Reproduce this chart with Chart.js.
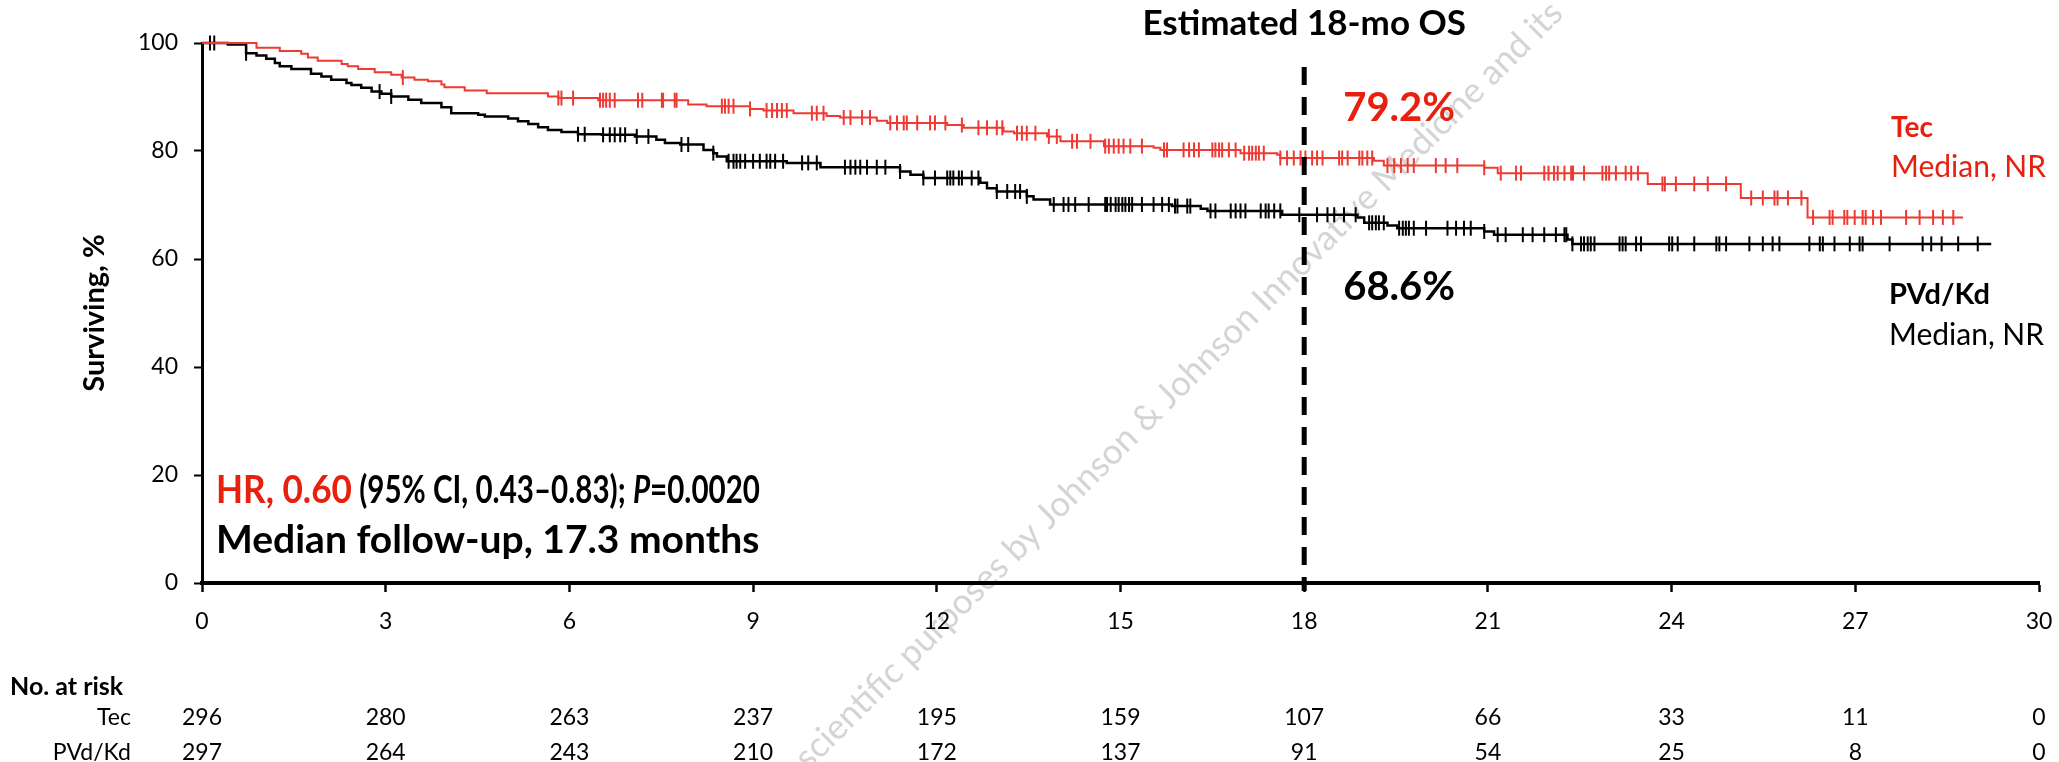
<!DOCTYPE html>
<html>
<head>
<meta charset="utf-8">
<script src="https://cdn.jsdelivr.net/npm/chart.js@4.4.1/dist/chart.umd.min.js"></script>
<style>
  html, body { margin: 0; padding: 0; background: #fff; }
  #wrap { width: 2059px; height: 762px; position: relative; }
</style>
</head>
<body>
<div id="wrap"><canvas id="km"></canvas></div>
<script>
// Kaplan-Meier steps: time (months) where survival drops, and survival (%) after that time
const tecTime = [0, 0.89, 1.27, 1.62, 1.73, 1.89, 2.28, 2.38, 2.55, 2.82, 3.09, 3.26, 3.47, 3.69, 3.91, 3.96,
  4.29, 4.65, 5.65, 5.82, 6.47, 7.94, 8.24, 8.95, 9.17, 9.66, 10.2, 10.42, 11.02, 11.19, 12.17, 12.44,
  13.09, 13.26, 13.8, 14.02, 14.73, 15.54, 15.65, 16.96, 17.56, 17.61, 19.14, 19.3, 20.94, 21.16,
  23.61, 25.13, 26.22, 28.76];
const tecSurv = [100, 99.1, 98.5, 98.0, 97.3, 96.7, 96.1, 95.7, 95.2, 94.6, 94.1, 93.6, 93.2, 92.9, 92.3, 91.8,
  91.2, 90.7, 90.1, 89.8, 89.4, 88.6, 88.3, 87.8, 87.5, 87.0, 86.5, 86.2, 85.6, 85.2, 84.8, 84.3,
  83.6, 83.3, 82.7, 81.8, 80.9, 80.6, 80.2, 79.6, 79.3, 78.7, 78.2, 77.3, 76.9, 75.9,
  73.9, 71.3, 67.7, 67.7];
const tecCensor = [3.28, 5.82, 5.87, 6.06, 6.5, 6.55, 6.6, 6.66, 6.74, 7.12, 7.19, 7.51, 7.53, 7.72, 7.75,
  8.49, 8.54, 8.6, 8.68, 8.95, 9.22, 9.31, 9.39, 9.47, 9.55, 9.96, 10.04, 10.15, 10.48, 10.59, 10.78,
  10.91, 11.24, 11.35, 11.46, 11.51, 11.68, 11.89, 11.97, 12.14, 12.41, 12.68, 12.82, 12.98, 13.07,
  13.31, 13.39, 13.47, 13.61, 13.83, 13.96, 14.21, 14.29, 14.51, 14.75, 14.81, 14.89, 14.97, 15.05,
  15.16, 15.35, 15.71, 15.76, 16.03, 16.12, 16.2, 16.28, 16.5, 16.55, 16.61, 16.66, 16.77, 16.88,
  17.02, 17.1, 17.15, 17.21, 17.26, 17.34, 17.61, 17.72, 17.83, 17.94, 18.02, 18.13, 18.21, 18.3,
  18.57, 18.62, 18.71, 18.9, 18.95, 19.03, 19.11, 19.36, 19.47, 19.58, 19.69, 19.79, 20.15, 20.31,
  20.5, 20.94, 21.21, 21.46, 21.54, 21.92, 21.99, 22.08, 22.14, 22.25, 22.36, 22.39, 22.57, 22.87,
  22.93, 22.98, 23.09, 23.25, 23.34, 23.45, 23.85, 23.89, 24.07, 24.37, 24.59, 24.89, 25.3, 25.49,
  25.68, 25.73, 25.9, 26.12, 26.31, 26.58, 26.63, 26.82, 26.87, 26.99, 27.12, 27.17, 27.29, 27.42,
  27.83, 28.05, 28.27, 28.43, 28.6];

const pvdTime = [0, 0.42, 0.72, 0.89, 1.05, 1.19, 1.27, 1.46, 1.78, 1.95, 2.11, 2.36, 2.44, 2.6, 2.77, 2.93,
  3.09, 3.37, 3.58, 3.91, 4.07, 4.51, 4.62, 5.0, 5.16, 5.33, 5.49, 5.65, 5.87, 6.14, 6.53, 7.07, 7.42,
  7.56, 7.81, 8.19, 8.35, 8.41, 8.57, 9.55, 10.1, 11.4, 11.57, 11.78, 12.71, 12.82, 12.98, 13.47,
  13.58, 13.85, 15.84, 16.31, 16.42, 17.64, 18.87, 18.98, 19.36, 19.52, 20.94, 21.1, 22.3, 22.38, 29.22];
const pvdSurv = [100, 99.7, 98.1, 97.7, 97.1, 96.3, 95.7, 95.2, 94.3, 93.8, 93.2, 92.6, 92.2, 91.7, 91.0, 90.6,
  90.1, 89.5, 88.9, 88.1, 87.0, 86.7, 86.4, 86.0, 85.5, 85.0, 84.4, 83.9, 83.5, 83.1, 83.0, 82.7, 82.1,
  81.5, 81.2, 80.2, 79.6, 79.0, 78.1, 77.8, 77.0, 76.2, 75.6, 75.0, 74.1, 73.1, 72.5, 71.6,
  71.0, 70.1, 69.8, 69.3, 68.9, 68.2, 67.7, 66.7, 66.2, 65.7, 65.1, 64.5, 63.6, 62.8, 62.8];
const pvdCensor = [0.13, 0.2, 0.72, 2.9, 3.09, 6.14, 6.25, 6.55, 6.66, 6.74, 6.83, 6.91, 7.1, 7.29, 7.83, 7.94,
  8.35, 8.6, 8.68, 8.73, 8.79, 8.87, 9.0, 9.11, 9.22, 9.28, 9.36, 9.49, 9.8, 9.9, 10.04, 10.5, 10.59,
  10.67, 10.75, 10.86, 11.02, 11.16, 11.4, 11.78, 11.97, 12.17, 12.22, 12.27, 12.36, 12.41, 12.57,
  12.68, 12.98, 13.15, 13.28, 13.36, 13.47, 13.91, 14.07, 14.15, 14.26, 14.48, 14.75, 14.78, 14.84,
  14.92, 14.97, 15.03, 15.08, 15.14, 15.19, 15.35, 15.54, 15.68, 15.79, 15.89, 15.93, 16.09, 16.14,
  16.47, 16.55, 16.8, 16.88, 16.96, 17.04, 17.29, 17.37, 17.42, 17.51, 17.61, 17.92, 18.21, 18.38,
  18.49, 18.65, 18.84, 19.06, 19.11, 19.17, 19.22, 19.3, 19.55, 19.61, 19.66, 19.71, 19.79, 19.99,
  20.34, 20.48, 20.61, 20.72, 20.94, 21.16, 21.29, 21.57, 21.73, 21.92, 22.11, 22.25, 22.28, 22.38,
  22.52, 22.57, 22.63, 22.68, 22.74, 23.15, 23.2, 23.25, 23.42, 23.5, 23.96, 24.01, 24.1, 24.37,
  24.73, 24.78, 24.89, 25.27, 25.49, 25.65, 25.76, 26.25, 26.42, 26.47, 26.66, 26.91, 27.07, 27.12,
  27.56, 28.1, 28.24, 28.41, 28.68, 29.0];

// number at risk table
const riskMonths = [0, 3, 6, 9, 12, 15, 18, 21, 24, 27, 30];
const tecRisk = [296, 280, 263, 237, 195, 159, 107, 66, 33, 11, 0];
const pvdRisk = [297, 264, 243, 210, 172, 137, 91, 54, 25, 8, 0];

const landmarkMonth = 18;

const RED_LINE = '#EE3A32';
const RED_TEXT = '#E8200F';
const BLACK = '#000000';
const FONT = "Lato, 'Open Sans', sans-serif";

function survAt(times, surv, t) {
  let v = surv[0];
  for (let i = 0; i < times.length; i++) {
    if (times[i] <= t) v = surv[i]; else break;
  }
  return v;
}

function text(ctx, s, x, y, size, color, weight, align) {
  ctx.font = (weight || 'normal') + ' ' + size + 'px ' + FONT;
  ctx.fillStyle = color;
  ctx.textAlign = align || 'left';
  ctx.textBaseline = 'middle';
  ctx.fillText(s, x, y);
}

// draws a run of styled pieces squeezed into [x0, x1]
function textRun(ctx, segs, x0, x1, y, size) {
  let total = 0;
  segs.forEach(([s, c, w]) => {
    ctx.font = w + ' ' + size + 'px ' + FONT;
    total += ctx.measureText(s).width;
  });
  ctx.save();
  ctx.translate(x0, y);
  ctx.scale(Math.min(1, (x1 - x0) / total), 1);
  let hx = 0;
  segs.forEach(([s, c, w]) => {
    text(ctx, s, hx, 0, size, c, w);
    hx += ctx.measureText(s).width;
  });
  ctx.restore();
}

const watermark = {
  id: 'watermark',
  beforeDraw(chart) {
    const ctx = chart.ctx;
    const s = 'scientific purposes by Johnson ';
    ctx.save();
    ctx.font = '35px ' + FONT;
    const w = ctx.measureText(s).width + ctx.measureText('&').width / 2;
    ctx.translate(1147, 417);
    ctx.rotate(-45 * Math.PI / 180);
    ctx.fillStyle = 'rgba(170,170,170,0.5)';
    ctx.textBaseline = 'middle';
    ctx.fillText(s + '& Johnson Innovative Medicine and its', -w, 0);
    ctx.restore();
  }
};

const annotations = {
  id: 'annotations',
  afterDraw(chart) {
    const ctx = chart.ctx;
    const x = chart.scales.x;
    ctx.save();

    // 18-month landmark
    const lx = x.getPixelForValue(landmarkMonth);
    ctx.beginPath();
    ctx.setLineDash([18, 12]);
    ctx.lineWidth = 5;
    ctx.strokeStyle = BLACK;
    ctx.moveTo(lx, chart.chartArea.top + 24);
    ctx.lineTo(lx, chart.chartArea.bottom + 8);
    ctx.stroke();
    ctx.setLineDash([]);

    text(ctx, 'Estimated 18-mo OS', lx, 24, 35, BLACK, 'bold', 'center');
    text(ctx, '79.2%', lx + 39, 108, 40, RED_TEXT, 'bold');
    text(ctx, '68.6%', lx + 39, 287, 40, BLACK, 'bold');

    text(ctx, 'Tec', 1891, 128, 28, RED_TEXT, 'bold');
    text(ctx, 'Median, NR', 1891, 167, 30, RED_TEXT);
    text(ctx, 'PVd/Kd', 1889, 295, 29, BLACK, 'bold');
    text(ctx, 'Median, NR', 1889, 335, 30, BLACK);

    // HR line with mixed styles
    textRun(ctx, [['HR, 0.60', RED_TEXT, 'bold']], 216, 352, 490, 39);
    textRun(ctx, [
      [' (95% CI, 0.43\u20130.83); ', BLACK, 'bold'],
      ['P', BLACK, 'italic bold'],
      ['=0.0020', BLACK, 'bold']
    ], 352, 760, 490, 39);
    text(ctx, 'Median follow-up, 17.3 months', 216, 540, 39, BLACK, 'bold');

    // number at risk
    text(ctx, 'No. at risk', 10, 687, 25, BLACK, 'bold');
    text(ctx, 'Tec', 131, 718, 23, BLACK, 'normal', 'right');
    text(ctx, 'PVd/Kd', 131, 753, 23, BLACK, 'normal', 'right');
    riskMonths.forEach((m, i) => {
      const px = x.getPixelForValue(m);
      text(ctx, String(tecRisk[i]), px, 718, 23, BLACK, 'normal', 'center');
      text(ctx, String(pvdRisk[i]), px, 753, 23, BLACK, 'normal', 'center');
    });
    ctx.restore();
  }
};

function build() {
  Chart.defaults.font.family = FONT;
  Chart.defaults.color = BLACK;

  const ctx = document.getElementById('km').getContext('2d');
  new Chart(ctx, {
    type: 'line',
    data: {
      datasets: [
        {
          label: 'Tec',
          data: tecTime.map((t, i) => ({ x: t, y: tecSurv[i] })),
          borderColor: RED_LINE,
          borderWidth: 2,
          stepped: 'before',
          pointRadius: 0,
          fill: false,
          clip: false
        },
        {
          label: 'Tec censored',
          data: tecCensor.map(t => ({ x: t, y: survAt(tecTime, tecSurv, t) })),
          showLine: false,
          pointStyle: 'line',
          rotation: 90,
          pointRadius: 7.5,
          pointBorderWidth: 2,
          borderColor: RED_LINE,
          pointBorderColor: RED_LINE,
          clip: false
        },
        {
          label: 'PVd/Kd',
          data: pvdTime.map((t, i) => ({ x: t, y: pvdSurv[i] })),
          borderColor: BLACK,
          borderWidth: 2.5,
          stepped: 'before',
          pointRadius: 0,
          fill: false,
          clip: false
        },
        {
          label: 'PVd/Kd censored',
          data: pvdCensor.map(t => ({ x: t, y: survAt(pvdTime, pvdSurv, t) })),
          showLine: false,
          pointStyle: 'line',
          rotation: 90,
          pointRadius: 7.5,
          pointBorderWidth: 2,
          borderColor: BLACK,
          pointBorderColor: BLACK,
          clip: false
        }
      ]
    },
    options: {
      responsive: true,
      maintainAspectRatio: false,
      animation: false,
      events: [],
      layout: { padding: { left: 0, top: 43, right: 20, bottom: 119 } },
      plugins: {
        legend: { display: false },
        tooltip: { enabled: false }
      },
      scales: {
        x: {
          type: 'linear',
          min: 0,
          max: 30,
          ticks: {
            stepSize: 3,
            autoSkip: false,
            maxRotation: 0,
            color: BLACK,
            padding: 16,
            font: { size: 23 }
          },
          grid: {
            drawOnChartArea: false,
            drawTicks: true,
            tickLength: 9,
            tickWidth: 2.5,
            tickColor: BLACK
          },
          border: { display: true, color: BLACK, width: 4 },
          afterFit(scale) {
            scale.height = 60;
            scale.paddingLeft = 0;
            scale.paddingRight = 0;
          }
        },
        y: {
          min: 0,
          max: 100,
          ticks: {
            stepSize: 20,
            color: BLACK,
            padding: 16,
            font: { size: 23 }
          },
          grid: {
            drawOnChartArea: false,
            drawTicks: true,
            tickLength: 8,
            tickWidth: 2,
            tickColor: BLACK
          },
          border: { display: true, color: BLACK, width: 3 },
          title: {
            display: true,
            text: 'Surviving, %',
            color: BLACK,
            font: { size: 29, weight: 'bold' },
            padding: { top: 77 }
          },
          afterFit(scale) { scale.width = 202; }
        }
      }
    },
    plugins: [watermark, annotations]
  });
}

Promise.all([
  document.fonts.load('22px Lato'),
  document.fonts.load('bold 22px Lato'),
  document.fonts.load('italic bold 22px Lato')
]).then(build, build);
</script>
</body>
</html>
